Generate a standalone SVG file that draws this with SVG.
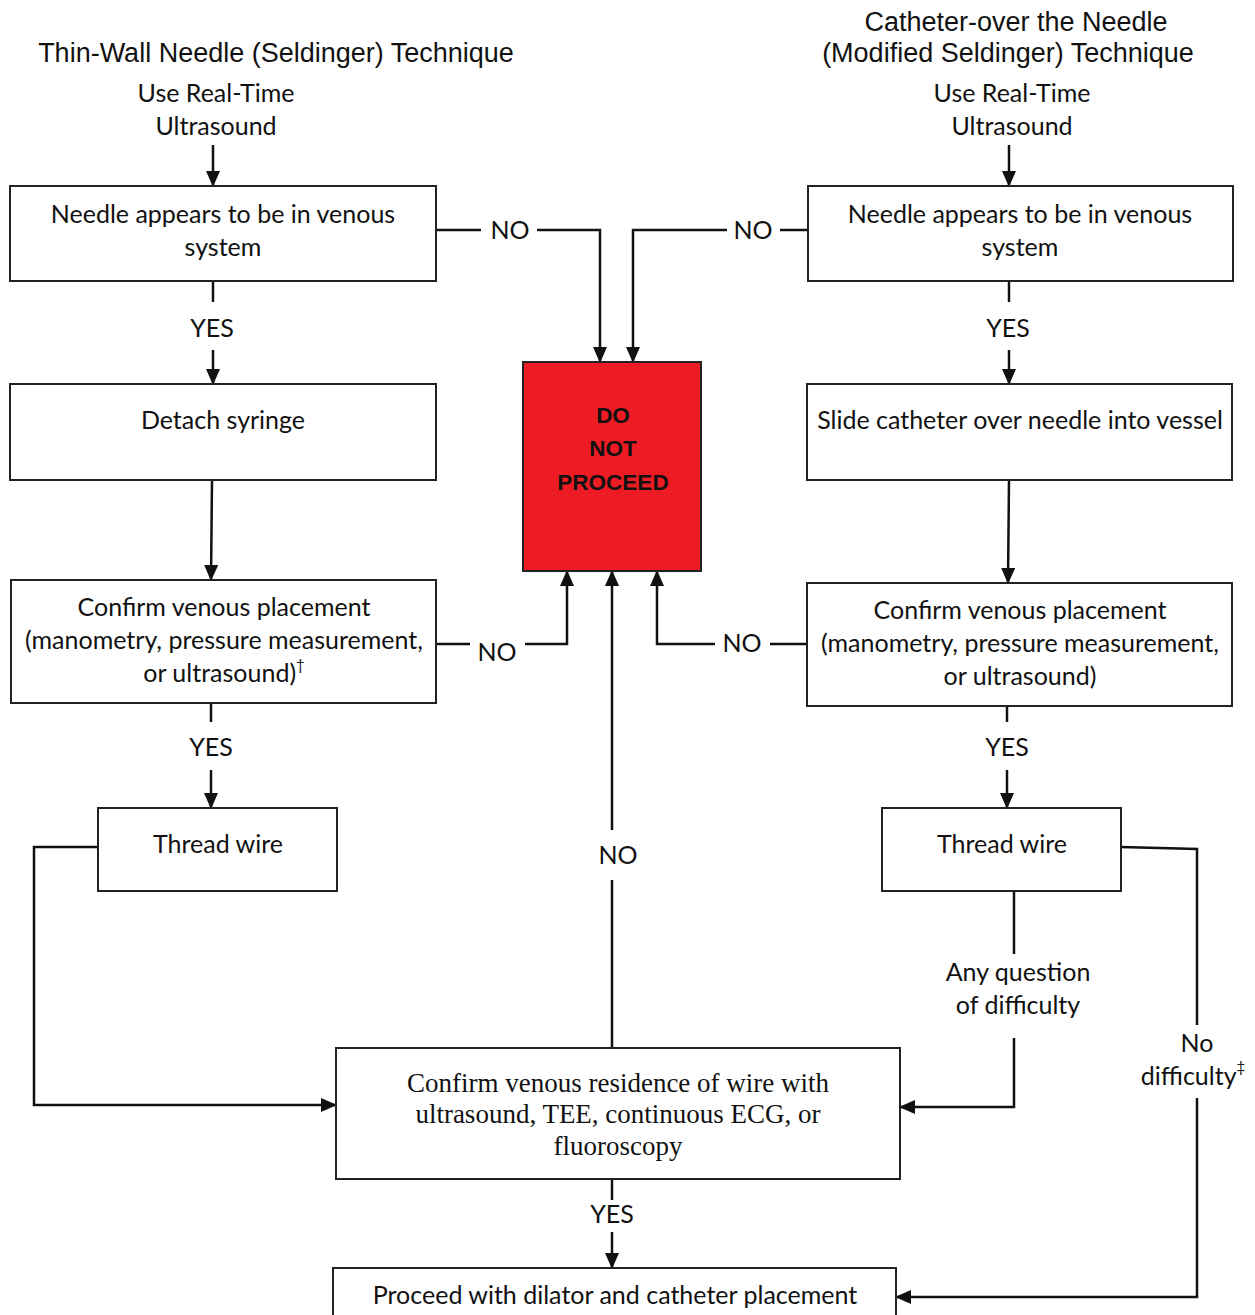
<svg xmlns="http://www.w3.org/2000/svg" width="1255" height="1315" viewBox="0 0 1255 1315">
<style>
.bg{fill:#fff}
.box{fill:#fff;stroke:#222;stroke-width:2}
.stop{fill:#ED1C24;stroke:#222;stroke-width:2}
.t{font-family:Lato,"Open Sans","Liberation Sans",sans-serif;font-size:25px;fill:#111;text-anchor:middle}
.h{font-family:"Liberation Sans",Arial,sans-serif;font-size:27px;fill:#111;text-anchor:middle}
.s{font-family:"Liberation Serif","Times New Roman",serif;font-size:27px;fill:#111;text-anchor:middle}
.b{font-family:"Liberation Sans",Arial,sans-serif;font-size:22.5px;font-weight:bold;fill:#111;text-anchor:middle}
.c{fill:none;stroke:#111;stroke-width:2.5}
.a{marker-end:url(#arr)}
</style>
<defs>
<marker id="arr" markerWidth="16" markerHeight="14" refX="15" refY="7" orient="auto" markerUnits="userSpaceOnUse">
<path d="M0,0 L16,7 L0,14 Z" fill="#111"/>
</marker>
</defs>
<rect class="bg" x="0" y="0" width="1255" height="1315"/>

<g id="titles">
<text class="h" x="276" y="62">Thin-Wall Needle (Seldinger) Technique</text>
<text class="h" x="1016" y="31">Catheter-over the Needle</text>
<text class="h" x="1008" y="62">(Modified Seldinger) Technique</text>
<text class="t" x="216" y="102">Use Real-Time</text>
<text class="t" x="216" y="135">Ultrasound</text>
<text class="t" x="1012" y="102">Use Real-Time</text>
<text class="t" x="1012" y="135">Ultrasound</text>
</g>

<g id="connectors">
<line class="c a" x1="213" y1="145" x2="213" y2="186"/>
<line class="c a" x1="1009" y1="145" x2="1009" y2="186"/>
<polyline class="c" points="436,230 481,230"/>
<polyline class="c a" points="537,230 600,230 600,362"/>
<text class="t" x="510" y="239">NO</text>
<polyline class="c" points="808,230 780,230"/>
<polyline class="c a" points="727,230 633,230 633,362"/>
<text class="t" x="753" y="239">NO</text>
<line class="c" x1="213" y1="281" x2="213" y2="302"/>
<text class="t" x="212" y="337">YES</text>
<line class="c a" x1="213" y1="350" x2="213" y2="384"/>
<line class="c" x1="1009" y1="281" x2="1009" y2="302"/>
<text class="t" x="1008" y="337">YES</text>
<line class="c a" x1="1009" y1="350" x2="1009" y2="384"/>
<line class="c a" x1="212" y1="480" x2="211" y2="580"/>
<line class="c a" x1="1009" y1="480" x2="1008" y2="583"/>
<polyline class="c" points="436,644 470,644"/>
<polyline class="c a" points="525,644 567,644 567,571"/>
<text class="t" x="497" y="661">NO</text>
<polyline class="c" points="807,644 770,644"/>
<polyline class="c a" points="715,644 657,644 657,571"/>
<text class="t" x="742" y="652">NO</text>
<line class="c" x1="612" y1="1048" x2="612" y2="880"/>
<line class="c a" x1="612" y1="830" x2="612" y2="571"/>
<text class="t" x="618" y="864">NO</text>
<line class="c" x1="211" y1="703" x2="211" y2="722"/>
<text class="t" x="211" y="756">YES</text>
<line class="c a" x1="211" y1="770" x2="211" y2="808"/>
<line class="c" x1="1007" y1="706" x2="1007" y2="722"/>
<text class="t" x="1007" y="756">YES</text>
<line class="c a" x1="1007" y1="770" x2="1007" y2="808"/>
<polyline class="c a" points="98,847 34,847 34,1105 336,1105"/>
<line class="c" x1="1014" y1="891" x2="1014" y2="954"/>
<text class="t" x="1018" y="981">Any question</text>
<text class="t" x="1018" y="1014">of difficulty</text>
<polyline class="c a" points="1014,1038 1014,1107 900,1107"/>
<polyline class="c" points="1121,847 1197,849 1197,1025"/>
<text class="t" x="1197" y="1052">No</text>
<text class="t" x="1193" y="1085">difficulty<tspan font-size="15" dy="-13">‡</tspan></text>
<polyline class="c a" points="1197,1098 1197,1297 896,1297"/>
<line class="c" x1="612" y1="1179" x2="612" y2="1200"/>
<text class="t" x="612" y="1223">YES</text>
<line class="c a" x1="612" y1="1232" x2="612" y2="1268"/>
</g>

<g id="needle-left">
<rect class="box" x="10" y="186" width="426" height="95"/>
<text class="t" x="223" y="223">Needle appears to be in venous</text>
<text class="t" x="223" y="256">system</text>
</g>
<g id="needle-right">
<rect class="box" x="808" y="186" width="425" height="95"/>
<text class="t" x="1020" y="223">Needle appears to be in venous</text>
<text class="t" x="1020" y="256">system</text>
</g>
<g id="detach-syringe">
<rect class="box" x="10" y="384" width="426" height="96"/>
<text class="t" x="223" y="429">Detach syringe</text>
</g>
<g id="slide-catheter">
<rect class="box" x="807" y="384" width="425" height="96"/>
<text class="t" x="1020" y="429">Slide catheter over needle into vessel</text>
</g>
<g id="do-not-proceed">
<rect class="stop" x="523" y="362" width="178" height="209"/>
<text class="b" x="613" y="423">DO</text>
<text class="b" x="613" y="456">NOT</text>
<text class="b" x="613" y="490">PROCEED</text>
</g>
<g id="confirm-left">
<rect class="box" x="11" y="580" width="425" height="123"/>
<text class="t" x="224" y="616">Confirm venous placement</text>
<text class="t" x="224" y="649">(manometry, pressure measurement,</text>
<text class="t" x="224" y="682">or ultrasound)<tspan font-size="15" dy="-12">†</tspan></text>
</g>
<g id="confirm-right">
<rect class="box" x="807" y="583" width="425" height="123"/>
<text class="t" x="1020" y="619">Confirm venous placement</text>
<text class="t" x="1020" y="652">(manometry, pressure measurement,</text>
<text class="t" x="1020" y="685">or ultrasound)</text>
</g>
<g id="thread-left">
<rect class="box" x="98" y="808" width="239" height="83"/>
<text class="t" x="218" y="853">Thread wire</text>
</g>
<g id="thread-right">
<rect class="box" x="882" y="808" width="239" height="83"/>
<text class="t" x="1002" y="853">Thread wire</text>
</g>
<g id="confirm-residence">
<rect class="box" x="336" y="1048" width="564" height="131"/>
<text class="s" x="618" y="1092">Confirm venous residence of wire with</text>
<text class="s" x="618" y="1123">ultrasound, TEE, continuous ECG, or</text>
<text class="s" x="618" y="1155">fluoroscopy</text>
</g>
<g id="proceed">
<rect class="box" x="333" y="1268" width="563" height="60"/>
<text class="t" x="615" y="1304">Proceed with dilator and catheter placement</text>
</g>
</svg>
